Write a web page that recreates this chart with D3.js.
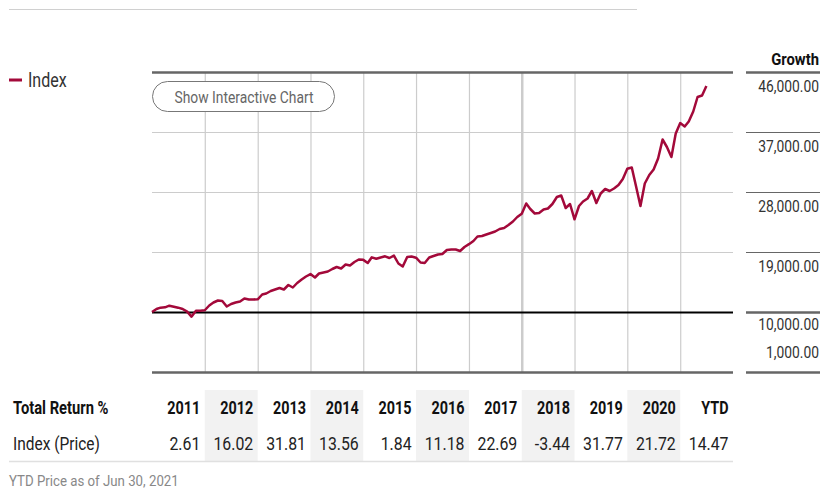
<!DOCTYPE html>
<html>
<head>
<meta charset="utf-8">
<script src="https://cdn.jsdelivr.net/npm/d3@7"></script>
<style>
  body { margin: 0; background: #fff; }
  svg text { font-family: Roboto, "Liberation Sans", sans-serif; }
</style>
</head>
<body>
<svg id="chart" width="837" height="495"></svg>
<script>
// growth of 10,000, month-end values from Dec 2010 to Jun 2021
const startValue = 10000;
const growth2011 = [10450, 10650, 10700, 10950, 10800, 10650, 10450, 10050, 9300, 10200, 10200, 10261];
const growth2012 = [10975, 11425, 11725, 11650, 10825, 11200, 11425, 11575, 12025, 11875, 11875, 11905];
const growth2013 = [12625, 12775, 13150, 13375, 13600, 13375, 14050, 13675, 14350, 14875, 15325, 15692];
const growth2014 = [15175, 15775, 15925, 16075, 16450, 16750, 16525, 17125, 16975, 17500, 17875, 17820];
const growth2015 = [17350, 18200, 17980, 18175, 18350, 18100, 18450, 17275, 16825, 18250, 18325, 18147];
const growth2016 = [17425, 17350, 18175, 18400, 18625, 18700, 19300, 19375, 19375, 19150, 19750, 20176];
const growth2017 = [20650, 21325, 21400, 21625, 21850, 22075, 22450, 22600, 23050, 23575, 24250, 24754];
const growth2018 = [26275, 25450, 24775, 24850, 25375, 25525, 26200, 27250, 27475, 25600, 26200, 23903];
const growth2019 = [25900, 26575, 27025, 28150, 26350, 27775, 28450, 28150, 28525, 29050, 29950, 31497];
const growth2020 = [31675, 28900, 25900, 29275, 30550, 31375, 33025, 35875, 34750, 33250, 36775, 38338];
const growth2021 = [37825, 38575, 40075, 42250, 42475, 43885];

const years = ['2011', '2012', '2013', '2014', '2015', '2016', '2017', '2018', '2019', '2020', 'YTD'];
const returns = [2.61, 16.02, 31.81, 13.56, 1.84, 11.18, 22.69, -3.44, 31.77, 21.72, 14.47];
const yTicks = [1000, 10000, 19000, 28000, 37000, 46000];

const red = '#a3093a';
const svg = d3.select('#chart');

// text squeezed horizontally to get the condensed look
function label(x, y, str, size, weight, fill, anchor, sx) {
  return svg.append('text')
    .attr('transform', 'translate(' + x + ',' + y + ') scale(' + sx + ',1)')
    .attr('font-size', size).attr('font-weight', weight).attr('fill', fill)
    .attr('text-anchor', anchor).text(str);
}

// month-end points
let series = [{ date: new Date(2010, 11, 31), v: startValue }];
[growth2011, growth2012, growth2013, growth2014, growth2015, growth2016,
 growth2017, growth2018, growth2019, growth2020, growth2021].forEach(function (arr, yi) {
  arr.forEach(function (v, m) {
    series.push({ date: new Date(2011 + yi, m + 1, 0), v: v });
  });
});

const pLeft = 152, pRight = 733, pTop = 72, pBottom = 372;
const x = d3.scaleTime()
  .domain([new Date(2010, 11, 31), new Date(2021, 11, 31)])
  .range([pLeft, pRight]);
const y = d3.scaleLinear().domain([1000, 46000]).range([pBottom, pTop]);

// top rule
svg.append('line').attr('x1', 9).attr('x2', 637).attr('y1', 9.5).attr('y2', 9.5)
  .attr('stroke', '#d0d0d0').attr('stroke-width', 1);

// legend
svg.append('line').attr('x1', 9).attr('x2', 22).attr('y1', 80).attr('y2', 80)
  .attr('stroke', red).attr('stroke-width', 3);
label(28, 87, 'Index', 20, 'normal', '#333', 'start', 0.8);

// vertical year gridlines
const yearEnds = d3.range(2011, 2021).map(function (yr) { return new Date(yr, 11, 31); });
const gx = svg.append('g').attr('transform', 'translate(0,' + pBottom + ')')
  .call(d3.axisBottom(x).tickValues(yearEnds).tickSize(-(pBottom - pTop)).tickFormat(''));
gx.select('.domain').remove();
gx.selectAll('.tick line').attr('stroke', '#cccccc')
  .attr('stroke-width', function (d) { return d.getFullYear() === 2017 ? 2.5 : 1.2; });

// horizontal gridlines and frame
const grid = d3.axisLeft(y).tickValues(yTicks).tickSize(-(pRight - pLeft)).tickFormat('');
const gy = svg.append('g').attr('transform', 'translate(' + pLeft + ',0)').call(grid);
gy.select('.domain').remove();
gy.selectAll('.tick line')
  .attr('stroke', function (d) { return d === 10000 ? '#000' : (d === 46000 || d === 1000 ? '#666' : '#cccccc'); })
  .attr('stroke-width', function (d) { return d === 10000 ? 2 : (d === 46000 || d === 1000 ? 2.5 : 1.2); });

// right axis
const ra = svg.append('g').attr('transform', 'translate(746,0)')
  .call(d3.axisRight(y).tickValues(yTicks).tickSize(74).tickFormat(d3.format(',.2f')));
ra.select('.domain').remove();
ra.selectAll('.tick line').attr('stroke', '#666')
  .attr('stroke-width', function (d) { return (d === 46000 || d === 10000 || d === 1000) ? 2.5 : 1; });
ra.selectAll('.tick text')
  .attr('x', 0).attr('dy', 0)
  .attr('transform', function (d) {
    const dy = d === 1000 ? -15 : (d === 10000 ? 17.5 : 19.8);
    return 'translate(73,' + dy + ') scale(0.84,1)';
  })
  .attr('text-anchor', 'end').attr('font-size', 16.5).attr('fill', '#333');

label(819, 65, 'Growth', 17, 'bold', '#111', 'end', 0.87);

// line
const line = d3.line().x(function (d) { return x(d.date); }).y(function (d) { return y(d.v); });
svg.append('path').datum(series).attr('d', line)
  .attr('fill', 'none').attr('stroke', red).attr('stroke-width', 2.5).attr('stroke-linejoin', 'round');

// button
svg.append('rect').attr('x', 152.5).attr('y', 81.5).attr('width', 182).attr('height', 30).attr('rx', 15)
  .attr('fill', '#fff').attr('stroke', '#777');
label(244, 102.5, 'Show Interactive Chart', 17.3, 'normal', '#666', 'middle', 0.8);

// table
const colStart = function (i) { return x(new Date(2010 + i, 11, 31)); };
const colEnd = function (i) { return x(new Date(2011 + i, 11, 31)); };
svg.selectAll('rect.shade').data(years.map(function (d, i) { return i; }).filter(function (i) { return i % 2 === 1; }))
  .enter().append('rect').attr('class', 'shade')
  .attr('x', function (i) { return colStart(i); })
  .attr('width', function (i) { return colEnd(i) - colStart(i); })
  .attr('y', 390).attr('height', 71).attr('fill', '#f2f2f2');

svg.append('line').attr('x1', 9).attr('x2', pRight).attr('y1', 461.5).attr('y2', 461.5)
  .attr('stroke', '#e0e0e0').attr('stroke-width', 1.5);

label(13, 413.5, 'Total Return %', 18, 'bold', '#111', 'start', 0.82);
label(13, 449.5, 'Index (Price)', 18, 'normal', '#222', 'start', 0.86);

years.forEach(function (d, i) {
  label(colEnd(i) - 4.5, 413.5, d, 18, 'bold', '#111', 'end', 0.8);
});
returns.forEach(function (d, i) {
  label(colEnd(i) - 4.5, 449.5, d.toFixed(2), 18, 'normal', '#222', 'end', 0.88);
});

label(9, 486, 'YTD Price as of Jun 30, 2021', 15.5, 'normal', '#888', 'start', 0.855);
</script>
</body>
</html>
